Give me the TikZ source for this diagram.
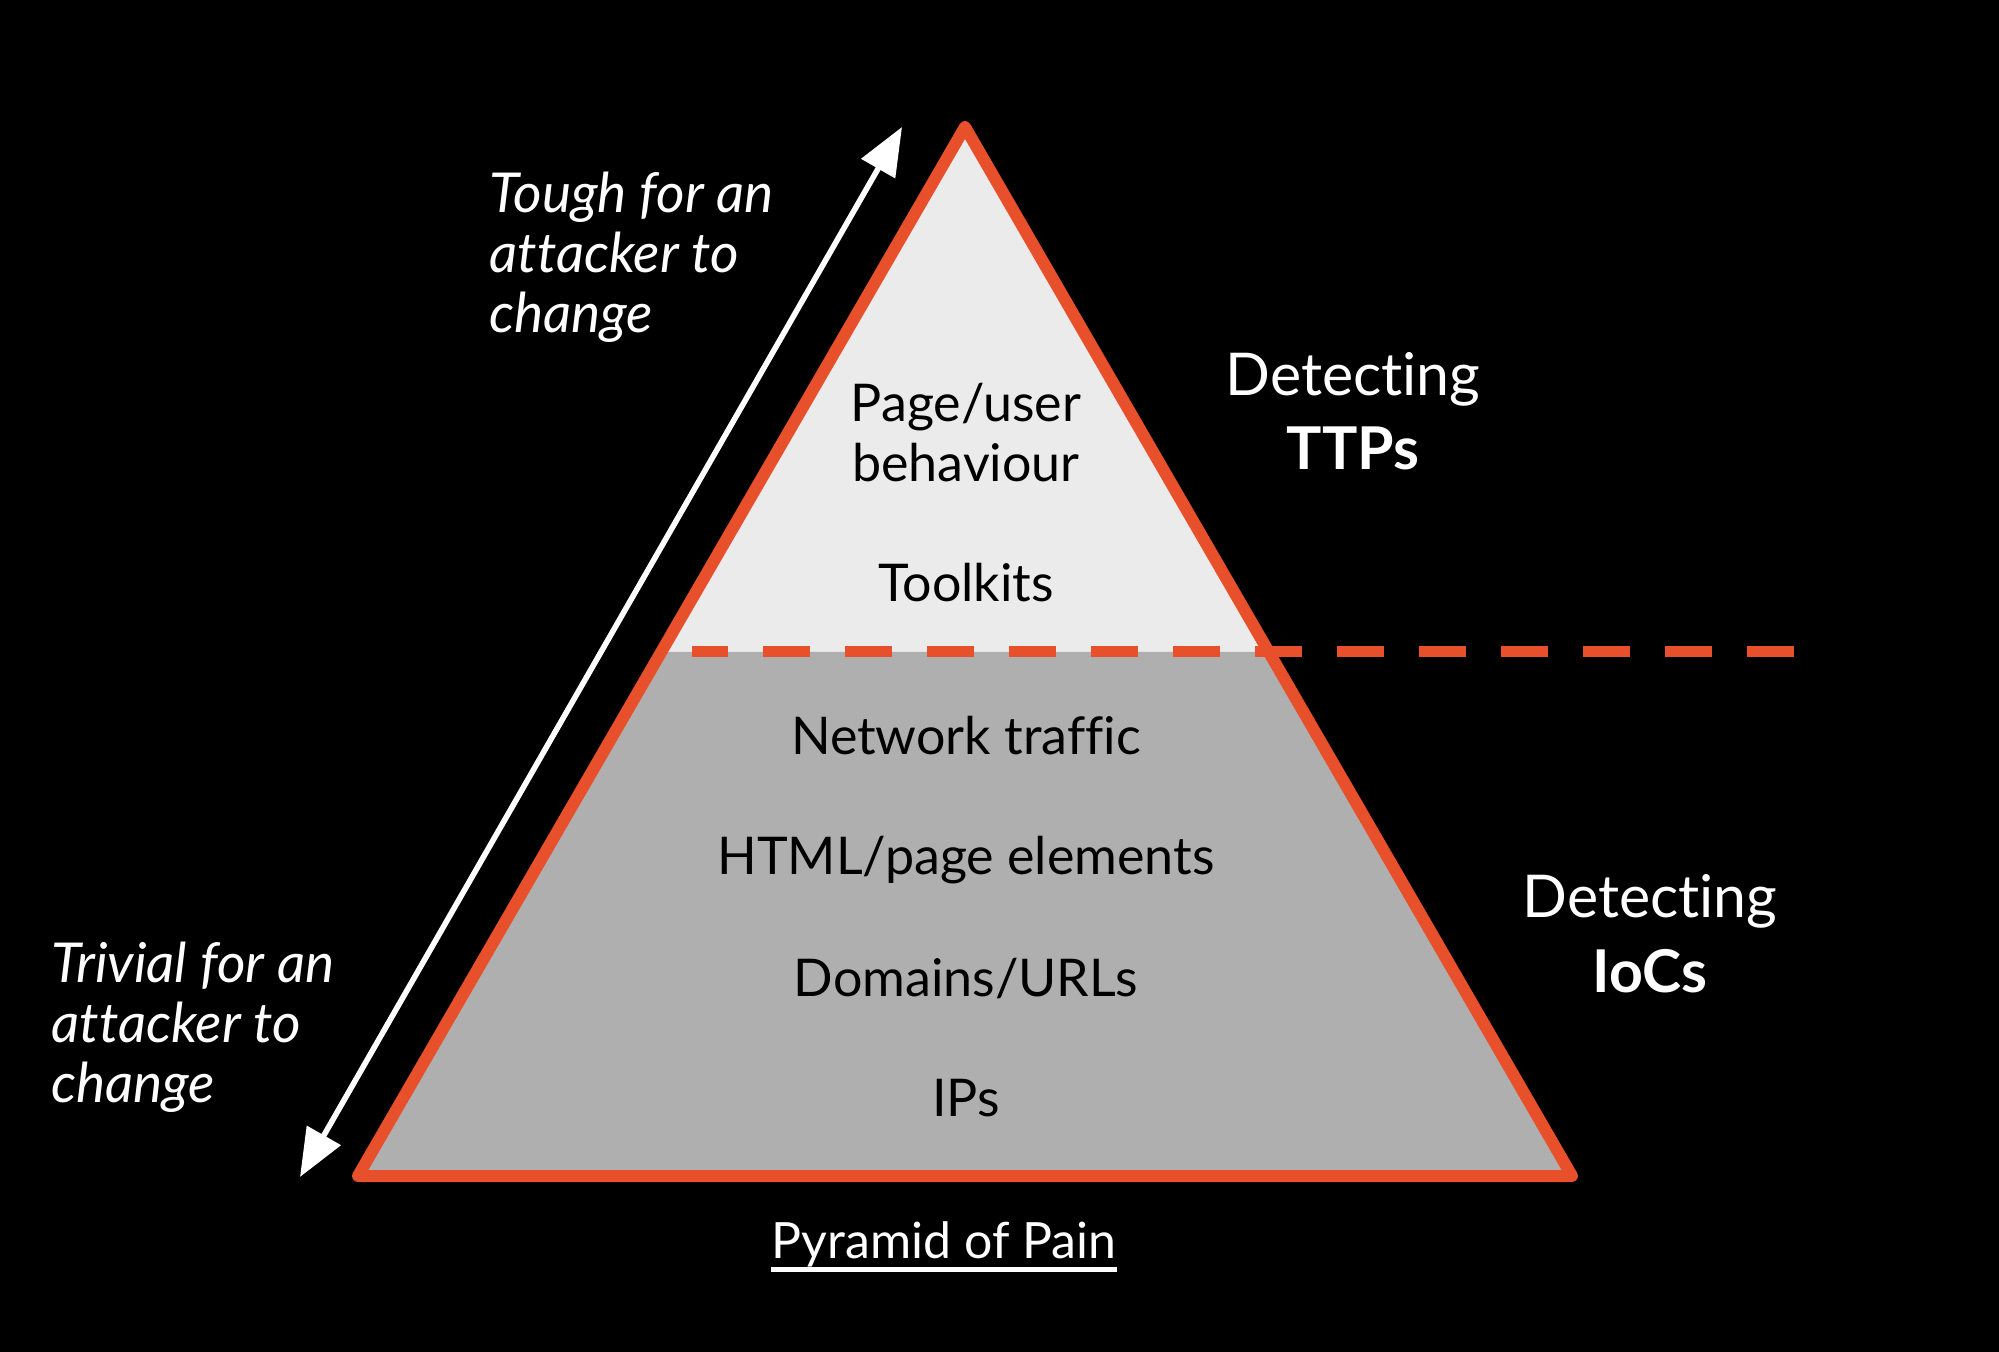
\documentclass[tikz,border=0pt]{standalone}
\usepackage{fontspec}
\setmainfont{Lato}[Ligatures=NoCommon]
\usetikzlibrary{arrows.meta}
\definecolor{pporange}{HTML}{E8502C}
\definecolor{pplight}{HTML}{EBEBEB}
\definecolor{ppdark}{HTML}{AFAFAF}
\begin{document}
\begin{tikzpicture}[x=0.5pt,y=-0.5pt,
  layertext/.style={font=\fontsize{26}{30}\selectfont, text=black, anchor=base, inner sep=0pt, align=center},
  sidetext/.style={font=\fontsize{29.5}{37}\selectfont, text=white, anchor=base, inner sep=0pt, align=center},
  notetext/.style={font=\itshape\fontsize{27.5}{30}\selectfont, text=white, anchor=base west, inner sep=0pt, align=left},
  edgeline/.style={draw=pporange, line width=6pt, line join=round},
  splitline/.style={draw=pporange, line width=5.5pt, dash pattern=on 23.5pt off 17.5pt},
  scalearrow/.style={draw=white, line width=2.8pt, {Triangle[length=24pt,width=19pt]}-{Triangle[length=24pt,width=19pt]}}]
\fill[black] (0,0) rectangle (1999,1352);
\useasboundingbox (0,0) rectangle (1999,1352);
% pyramid geometry
\coordinate (apex) at (965,127);
\coordinate (bl) at (358,1176);
\coordinate (br) at (1572,1176);
\coordinate (ml) at (661.2,652);
\coordinate (mr) at (1268.8,652);
\coordinate (dashstart) at (692,652);
\coordinate (dashend) at (1794,652);
\fill[pplight] (apex) -- (ml) -- (mr) -- cycle;
\fill[ppdark] (ml) -- (bl) -- (br) -- (mr) -- cycle;
\path[edgeline] (apex) -- (bl) -- (br) -- cycle;
\path[splitline] (dashend) -- (dashstart);
% arrow
\coordinate (abot) at (300,1177);
\coordinate (atop) at (902,127);
\path[scalearrow] (abot) -- (atop);
% layer labels (anchor base = last line's baseline)
\node[layertext] (behav) at (966,482) {Page/user\\behaviour};
\node[layertext] (tools) at (966,602) {Toolkits};
\node[layertext] (net) at (966,755) {Network traffic};
\node[layertext] (html) at (966,875) {HTML/page elements};
\node[layertext] (dom) at (966,996) {Domains/URLs};
\node[layertext] (ips) at (966,1116) {IPs};
% side labels
\node[sidetext] (ttp) at (1353,470) {Detecting\\\textbf{TTPs}};
\node[sidetext] (ioc) at (1650,992) {Detecting\\\textbf{IoCs}};
\node[notetext] (tough) at (489,333) {Tough for an\\attacker to\\change};
\node[notetext] (trivial) at (51,1102) {Trivial for an\\attacker to\\change};
% title
\node[font=\fontsize{25}{28}\selectfont, text=white, anchor=base, inner sep=0pt] (pop) at (944,1258) {Pyramid of Pain};
\draw[white, line width=2.2pt] ([yshift=-5.75pt]pop.base west) -- ([yshift=-5.75pt]pop.base east);
\end{tikzpicture}
\end{document}
